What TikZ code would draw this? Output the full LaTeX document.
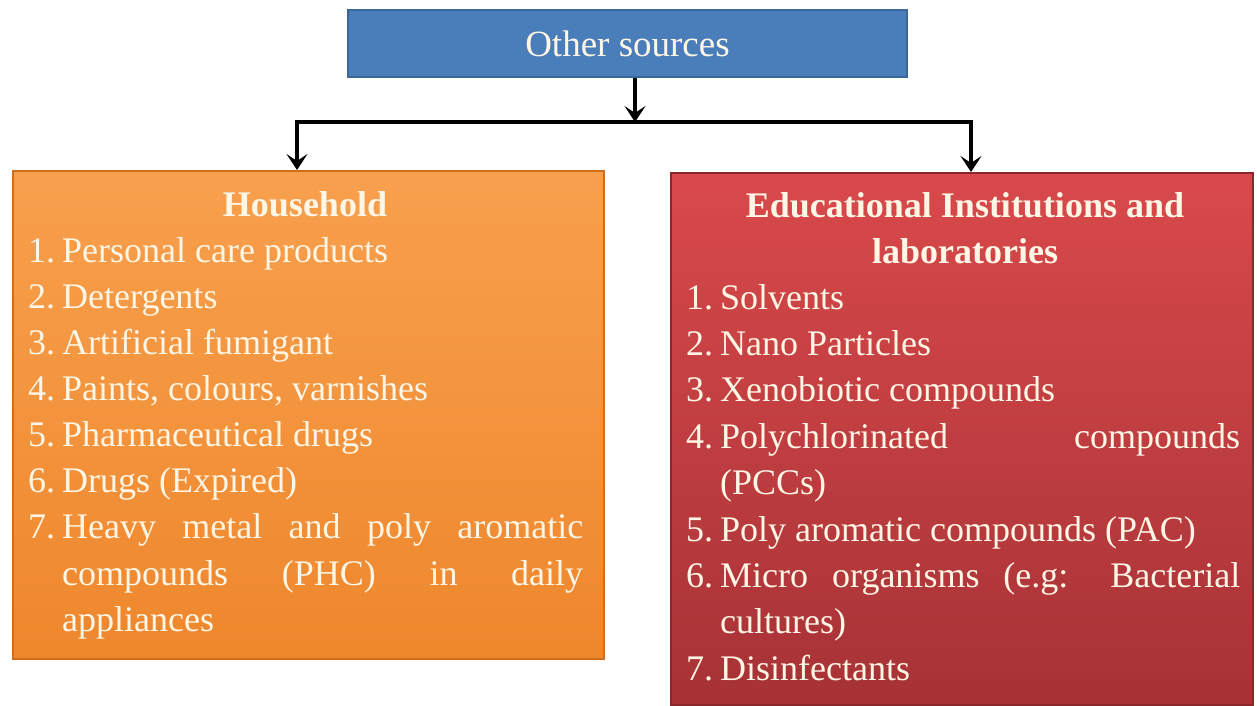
\documentclass[tikz,border=0pt]{standalone}
\usepackage{fontspec}
\setmainfont{Liberation Serif}
\usetikzlibrary{arrows.meta,shadings}

\definecolor{srcblue}{HTML}{4A7EBB}
\definecolor{srcblueedge}{HTML}{3B6699}
\definecolor{hhtop}{HTML}{F8A04E}
\definecolor{hhbot}{HTML}{EE872C}
\definecolor{hhedge}{HTML}{CF6F1E}
\definecolor{edtop}{HTML}{D9494B}
\definecolor{edbot}{HTML}{A63236}
\definecolor{ededge}{HTML}{8A282B}
\definecolor{cream}{HTML}{FFF6E6}

\tikzset{
  boxtxt/.style={font=\fontsize{36}{42}\selectfont, text=cream, inner sep=0pt, anchor=base west},
  boxtitle/.style={font=\bfseries\fontsize{36}{42}\selectfont, text=cream, inner sep=0pt, anchor=base},
  topbox/.style={draw=srcblueedge, line width=1.5pt, fill=srcblue, minimum width=559pt,
    minimum height=67pt, inner sep=0pt, text=cream, font=\fontsize{37}{42}\selectfont},
  hhbox/.style={draw=hhedge, line width=2pt, top color=hhtop, bottom color=hhbot,
    anchor=north west, inner sep=0pt},
  edbox/.style={draw=ededge, line width=2pt, top color=edtop, bottom color=edbot,
    anchor=north west, inner sep=0pt},
  link/.style={draw=black, line width=4pt},
  arr/.style={link, -{Stealth[length=16pt, width=21pt, inset=7pt]}}
}

\begin{document}
\begin{tikzpicture}[x=1pt, y=-1pt]
\useasboundingbox[fill=white] (0,0) rectangle (1257,706);

% the three boxes
\node[topbox] (top) at (627.5,43.5) {Other sources};
\node[hhbox, minimum width=591pt, minimum height=488pt] (hh) at (12,170) {};
\node[edbox, minimum width=582pt, minimum height=532pt] (ed) at (670,172) {};

% distribution bar and arrows
\coordinate (bus) at (635,122);
\coordinate (busL) at (297,122);
\coordinate (busR) at (971,122);
\draw[link] ([xshift=-2pt]busL) -- ([xshift=2pt]busR);
\draw[arr] (top.south -| bus) -- (bus);
\draw[arr] (busL) -- (busL |- hh.north);
\draw[arr] (busR) -- (busR |- ed.north);

% household list
\node[boxtitle] (hht) at (305,216) {Household};
\node[boxtxt] (hn1) at (28,262) {1.}; \node[boxtxt] (hi1) at (62,262) {Personal care products};
\node[boxtxt] (hn2) at (28,308) {2.}; \node[boxtxt] (hi2) at (62,308) {Detergents};
\node[boxtxt] (hn3) at (28,354) {3.}; \node[boxtxt] (hi3) at (62,354) {Artificial fumigant};
\node[boxtxt] (hn4) at (28,400) {4.}; \node[boxtxt] (hi4) at (62,400) {Paints, colours, varnishes};
\node[boxtxt] (hn5) at (28,446) {5.}; \node[boxtxt] (hi5) at (62,446) {Pharmaceutical drugs};
\node[boxtxt] (hn6) at (28,492) {6.}; \node[boxtxt] (hi6) at (62,492) {Drugs (Expired)};
\node[boxtxt] (hn7) at (28,538) {7.}; \node[boxtxt] (hi7) at (62,538) {\makebox[521pt][s]{Heavy metal and poly aromatic}};
\node[boxtxt] (hi7b) at (62,585) {\makebox[521pt][s]{compounds (PHC) in daily}};
\node[boxtxt] (hi7c) at (62,631) {appliances};

% institutions list
\node[boxtitle] (edt1) at (965,217) {Educational Institutions and};
\node[boxtitle] (edt2) at (965,263) {laboratories};
\node[boxtxt] (en1) at (686,309) {1.}; \node[boxtxt] (ei1) at (720,309) {Solvents};
\node[boxtxt] (en2) at (686,355) {2.}; \node[boxtxt] (ei2) at (720,355) {Nano Particles};
\node[boxtxt] (en3) at (686,401) {3.}; \node[boxtxt] (ei3) at (720,401) {Xenobiotic compounds};
\node[boxtxt] (en4) at (686,448) {4.}; \node[boxtxt] (ei4) at (720,448) {\makebox[520pt][s]{Polychlorinated compounds}};
\node[boxtxt] (ei4b) at (720,494) {(PCCs)};
\node[boxtxt] (en5) at (686,541) {5.}; \node[boxtxt] (ei5) at (720,541) {Poly aromatic compounds (PAC)};
\node[boxtxt] (en6) at (686,587) {6.}; \node[boxtxt] (ei6) at (720,587) {\makebox[520pt][s]{Micro organisms (e.g: Bacterial}};
\node[boxtxt] (ei6b) at (720,633) {cultures)};
\node[boxtxt] (en7) at (686,680) {7.}; \node[boxtxt] (ei7) at (720,680) {Disinfectants};
\end{tikzpicture}
\end{document}
